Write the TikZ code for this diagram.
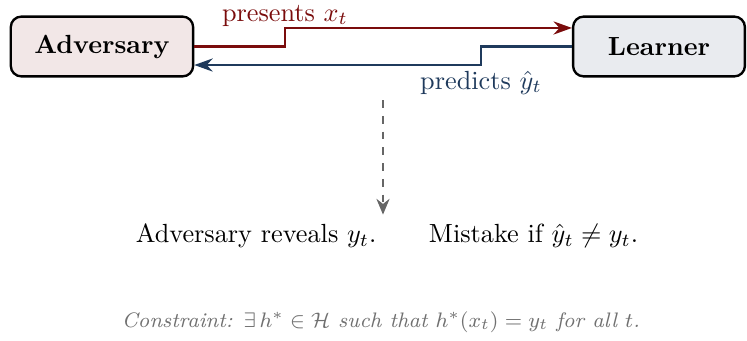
\documentclass[tikz,border=0pt]{standalone}
\usepackage{amsmath,amssymb}
\usepackage{tikz}
\usetikzlibrary{arrows.meta,positioning,calc}
\definecolor{advred}{RGB}{122,12,12}
\definecolor{lrnblue}{RGB}{31,58,92}
\definecolor{muted}{RGB}{112,112,112}

\begin{document}
\begin{tikzpicture}[
  x=1cm, y=1cm,
  agent/.style={draw=black, line width=0.9pt, rounded corners=4pt,
    minimum width=2.3cm, minimum height=0.8cm, inner xsep=9pt, font=\bfseries},
  msg/.style={-{Stealth[length=7pt,width=5pt]}, line width=0.9pt},
  reveal/.style={-{Stealth[length=6pt,width=5pt]}, dashed, line width=0.8pt, black!60},
  note/.style={text=muted, font=\footnotesize\itshape}]

\useasboundingbox (0,0) rectangle (10,-4.552);

% ---- the two players ---------------------------------------------------
\node[agent, fill=advred!10]  (adv) at (1.365,-0.6225) {Adversary};
\node[agent, fill=lrnblue!10] (lrn) at (8.822,-0.6225) {Learner};

% the two messages leave and enter the boxes off centre
\coordinate (topline) at ([yshift=0.248cm]lrn.west);
\coordinate (lowline) at ([yshift=-0.248cm]adv.east);
\coordinate (upstep)   at (3.815,0);
\coordinate (downstep) at (6.439,0);

% ---- round t: x_t goes out, the guess comes back ------------------------
\draw[msg, advred] (adv.east) -| (upstep |- topline) -- (topline);
\node[anchor=south, inner sep=0.5pt, text=advred] (presents)
  at (upstep |- topline) {presents $x_t$};

\draw[msg, lrnblue] (lrn.west) -| (downstep |- lowline) -- (lowline);
\node[anchor=north, inner sep=2pt, text=lrnblue] (predicts)
  at (downstep |- lowline) {predicts $\hat{y}_t$};

% ---- then the label is revealed -----------------------------------------
\coordinate (drop) at (5.127,-1.339);
\node (outcome) at (5.181,-3.159)
  {Adversary reveals $y_t$.\qquad Mistake if $\hat{y}_t \neq y_t$.};
\draw[reveal] (drop) -- (drop |- outcome.north);

\node[note] (realizable) at (5.10,-4.311)
  {Constraint: $\exists\, h^* \in \mathcal{H}$ such that $h^*(x_t) = y_t$ for all $t$.};

\end{tikzpicture}
\end{document}
